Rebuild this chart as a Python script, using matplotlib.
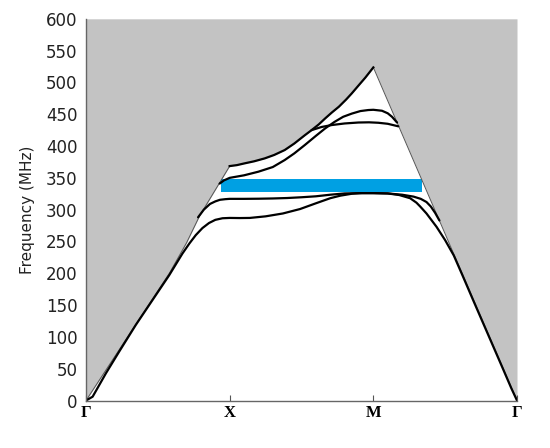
import numpy as np
import matplotlib
matplotlib.use('Agg')
import matplotlib.pyplot as plt

# high-symmetry path: Gamma=0, X=1, M=2, Gamma=3
sym_pos = [0, 1, 2, 3]
sym_labels = ['Γ', 'X', 'M', 'Γ']

# edge of the grey (radiating) region, MHz
light_x = [0.0, 0.35, 0.58, 0.70, 0.79, 1.0,
           1.05, 1.104, 1.17, 1.244, 1.31, 1.383, 1.45, 1.523, 1.57, 1.62, 1.665, 1.71,
           1.76, 1.81, 1.85, 1.9, 1.944, 2.0, 3.0]
light_f = [0.0, 121, 200, 248, 290, 368.5,
           370, 372.8, 376, 380.6, 386, 393.7, 404, 417, 425, 434, 443.5, 452.5,
           461.8, 473, 482.8, 496, 507.5, 523.6, 0.0]

# bands
band1_x = [0.0, 0.046, 0.139, 0.231, 0.347, 0.463, 0.579, 0.671, 0.72, 0.764, 0.81, 0.856, 0.9, 0.95, 1.0,
           1.07, 1.14, 1.25, 1.37, 1.49, 1.6, 1.7, 1.77, 1.85, 1.92, 2.0,
           2.1, 2.18, 2.256, 2.3, 2.326, 2.37, 2.44, 2.5, 2.56, 2.62, 2.7, 2.8, 2.9, 2.96, 3.0]
band1_f = [0.0, 6, 43, 77, 119, 158, 197, 231, 247, 260, 271, 279, 284, 286.5, 287,
           286.8, 287, 289.5, 294, 301, 310, 318, 322, 325, 326, 326,
           325.5, 323, 318, 311, 305, 294, 273, 252, 228, 197, 155, 103, 51, 19.5, 0.0]

band2_x = [0.78, 0.82, 0.863, 0.9, 0.932, 0.97, 1.0,
           1.1, 1.2, 1.3, 1.4, 1.5, 1.6, 1.7, 1.8, 1.9, 2.0,
           2.1, 2.2, 2.28, 2.33, 2.37, 2.4, 2.43, 2.46]
band2_f = [288, 300, 309, 313, 315.5, 316.5, 317,
           317, 317.2, 317.6, 318.3, 319.5, 321, 323.5, 325.5, 326, 326,
           325.5, 323.5, 320.5, 317, 312, 305, 295, 283]

band3_x = [0.93, 0.96, 1.0, 1.1, 1.2, 1.3, 1.383, 1.45, 1.523, 1.6, 1.665, 1.73, 1.79, 1.85,
           1.91, 1.965, 2.0, 2.06, 2.1, 2.13, 2.165]
band3_f = [341, 346, 350, 354, 359.7, 367, 378, 388.5, 401.6, 416, 427.8, 438, 446, 451,
           455, 456.6, 457, 455.5, 451.5, 446, 437]

band4_x = [1.57, 1.64, 1.71, 1.8, 1.896, 1.97, 2.035, 2.1, 2.174]
band4_f = [425, 430, 433, 435.5, 437, 437.3, 436.6, 435, 431]

# band gap
gap_x = [0.937, 2.336]
gap_f = [328, 348]

fig = plt.figure(figsize=(5.5, 4.48), dpi=100)
ax = fig.add_axes([0.1564, 0.106, 0.7836, 0.852])

ax.fill_between(light_x, light_f, 600, color='#c3c3c3', lw=0)
# thin outline of the grey region on the two slanted sides
ax.plot(light_x[:6], light_f[:6], color='#555555', lw=0.7)
ax.plot(light_x[-2:], light_f[-2:], color='#555555', lw=0.7)
# the X-M edge is drawn as a band line
ax.plot(light_x[5:-1], light_f[5:-1], color='black', lw=1.6)

ax.fill_between(gap_x, gap_f[0], gap_f[1], color='#00a0e3', lw=0)

for bx, bf in [(band1_x, band1_f), (band2_x, band2_f), (band3_x, band3_f), (band4_x, band4_f)]:
    ax.plot(bx, bf, color='black', lw=1.6, solid_capstyle='round', solid_joinstyle='round')

ax.set_xlim(0, 3)
ax.set_ylim(0, 600)
ax.set_yticks(np.arange(0, 601, 50))
ax.set_xticks(sym_pos)
ax.set_xticklabels(sym_labels, fontfamily='Liberation Serif', fontweight='bold', fontsize=12)
ax.tick_params(axis='y', length=0, labelsize=12, pad=6, labelcolor='#222222')
ax.tick_params(axis='x', direction='in', length=4, color='#555555', pad=3)
ax.set_ylabel('Frequency (MHz)', fontsize=11, color='#222222', labelpad=8)

for side in ['top', 'right']:
    ax.spines[side].set_visible(False)
for side in ['left', 'bottom']:
    ax.spines[side].set_color('#666666')
    ax.spines[side].set_linewidth(1.0)

fig.savefig('out.png', dpi=100)
